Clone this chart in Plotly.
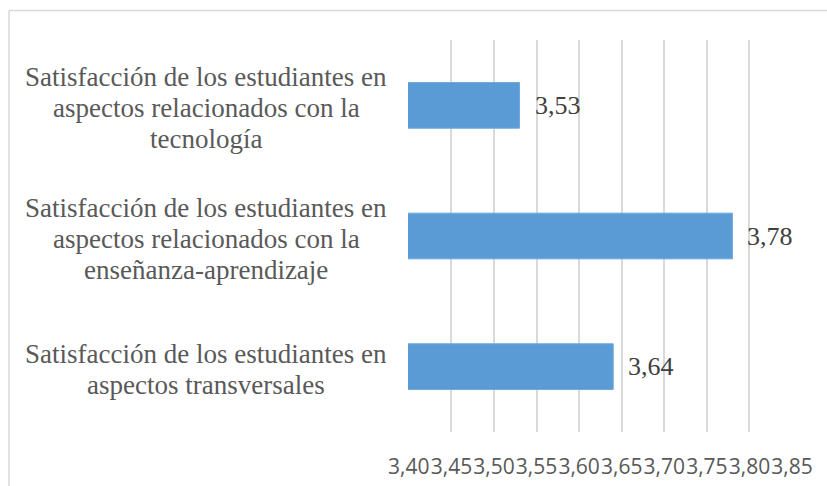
import plotly.graph_objects as go

# categories top to bottom, with the line breaks used in the chart
categories = [
    "Satisfacción de los estudiantes en<br>aspectos relacionados con la<br>tecnología",
    "Satisfacción de los estudiantes en<br>aspectos relacionados con la<br>enseñanza-aprendizaje",
    "Satisfacción de los estudiantes en<br>aspectos transversales",
]
values = [3.53, 3.78, 3.64]
value_labels = ["3,53", "3,78", "3,64"]

BAR_COLOR = "#5B9BD5"
GRID_COLOR = "#D9D9D9"
SERIF = "Liberation Serif, Times New Roman, serif"

fig = go.Figure(
    go.Bar(
        x=values,
        y=categories,
        orientation="h",
        width=0.35,
        marker=dict(color=BAR_COLOR, line=dict(color="#6FA8DC", width=1)),
        hoverinfo="skip",
    )
)

annotations = []
# category labels, one annotation per line so the line spacing matches
for cat in categories:
    lines = cat.split("<br>")
    n = len(lines)
    for i, line in enumerate(lines):
        annotations.append(dict(
            x=-0.526, xref="paper", y=cat, yref="y",
            text=line, showarrow=False, xanchor="center", yanchor="middle",
            yshift=((n - 1) / 2 - i) * 31 - 3,
            font=dict(family=SERIF, size=27, color="#595959"),
        ))

# value labels to the right of each bar
for cat, v, lab in zip(categories, values, value_labels):
    annotations.append(dict(
        x=v, y=cat, xref="x", yref="y", text=lab, showarrow=False,
        xanchor="left", yanchor="middle", xshift=13, yshift=0,
        font=dict(family=SERIF, size=26, color="#404040"),
    ))

# outer chart border (only the top and left edges are inside the picture)
shapes = [
    dict(type="line", xref="paper", yref="paper", x0=-1.039, x1=1.2,
         y0=1.0753, y1=1.0753, line=dict(color=GRID_COLOR, width=1.5)),
    dict(type="line", xref="paper", yref="paper", x0=-1.039, x1=-1.039,
         y0=-0.2, y1=1.0753, line=dict(color=GRID_COLOR, width=1.5)),
]

fig.update_layout(
    width=827,
    height=486,
    margin=dict(l=408, r=35, t=40, b=54, autoexpand=False),
    paper_bgcolor="white",
    plot_bgcolor="white",
    separators=", ",
    showlegend=False,
    annotations=annotations,
    shapes=shapes,
    xaxis=dict(
        range=[3.399, 3.85],
        tick0=3.40,
        dtick=0.05,
        tickformat=".2f",
        tickangle=0,
        showgrid=True,
        gridcolor=GRID_COLOR,
        gridwidth=1.5,
        zeroline=False,
        showline=False,
        ticks="",
        ticklabelstandoff=20,
        tickfont=dict(family="Open Sans, sans-serif", size=21, color="#595959"),
        automargin=False,
    ),
    yaxis=dict(
        categoryorder="array",
        categoryarray=categories,
        autorange="reversed",
        showticklabels=False,
        showgrid=False,
        zeroline=False,
        showline=False,
        ticks="",
        automargin=False,
    ),
)

# drop the default page margin so the figure sits at the window's corner
fig.write_html(
    "out.html",
    config={"displayModeBar": False},
    post_script="document.body.style.margin='0';",
)
